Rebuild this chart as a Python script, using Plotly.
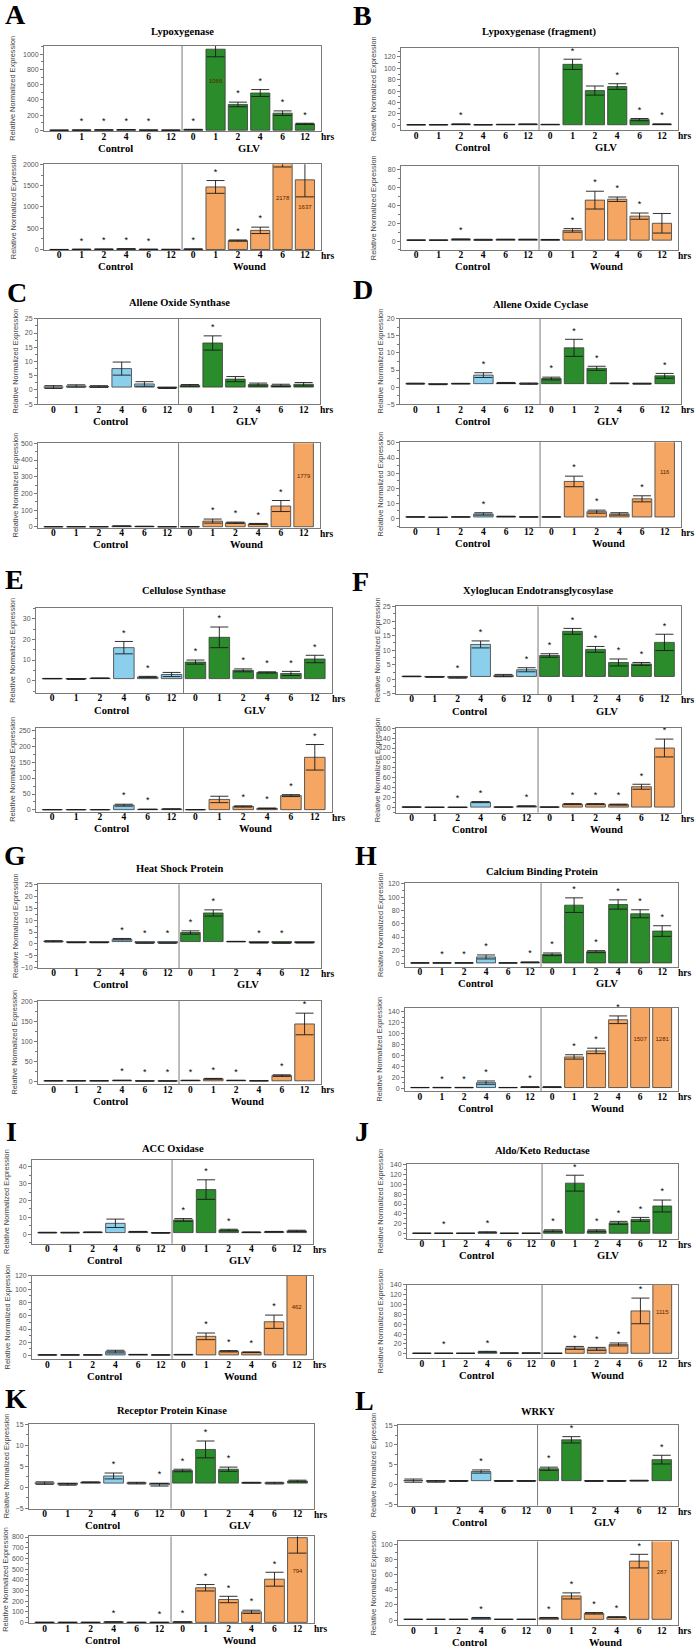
import plotly.graph_objects as go

# ---------------- data ----------------
TIMES = ["0", "1", "2", "4", "6", "12"]
LETTERS = ["A", "B", "C", "D", "E", "F", "G", "H", "I", "J", "K", "L"]
GENES = ["Lypoxygenase", "Lypoxygenase (fragment)", "Allene Oxide Synthase",
         "Allene Oxide Cyclase", "Cellulose Synthase", "Xyloglucan Endotransglycosylase",
         "Heat Shock Protein", "Calcium Binding Protein", "ACC Oxidase",
         "Aldo/Keto Reductase", "Receptor Protein Kinase", "WRKY"]
CONTROL_LABEL = "Control"
TREAT_LABELS = ["GLV", "Wound"]
Y_TITLE = "Relative Normalized Expression"

# each list: control 0,1,2,4,6,12 h then treatment 0,1,2,4,6,12 h
A_GLV = [1, 3, 5, 8, 3, 2, 10, 1066, 340, 490, 225, 85]
A_GLV_ERR = [0.3, 1, 1.5, 2, 1, 0.5, 3, 100, 30, 45, 30, 8]
A_GLV_SIG = [0, 1, 1, 1, 1, 0, 1, 1, 1, 1, 1, 1]
A_GLV_LBL = [7]
A_WND = [1, 5, 8, 15, 5, 3, 10, 1470, 210, 450, 2178, 1637]
A_WND_ERR = [0.3, 1, 2, 3, 1, 1, 3, 150, 15, 75, 240, 400]
A_WND_SIG = [0, 1, 1, 1, 1, 0, 1, 1, 1, 1, 1, 1]
A_WND_LBL = [10, 11]

B_GLV = [1, 1, 2, 1, 1.5, 2, 1.5, 107, 61, 68, 10, 2]
B_GLV_ERR = [0.2, 0.2, 0.5, 0.3, 0.3, 0.4, 0.3, 9, 8, 5, 2, 0.5]
B_GLV_SIG = [0, 0, 1, 0, 0, 0, 0, 1, 0, 1, 1, 1]
B_GLV_LBL = []
B_WND = [1, 1, 2, 1.5, 1.8, 1.8, 1.5, 12, 46, 47, 28, 20]
B_WND_ERR = [0.2, 0.2, 0.4, 0.5, 0.3, 0.3, 0.3, 2, 10, 2.5, 3.5, 11]
B_WND_SIG = [0, 0, 1, 0, 0, 0, 0, 1, 1, 1, 1, 0]
B_WND_LBL = []

C_GLV = [1.0, 1.4, 1.2, 7.5, 2.1, 0.7, 1.6, 16.5, 3.8, 1.9, 1.6, 2.0]
C_GLV_ERR = [0.5, 0.4, 0.3, 2.3, 0.8, 0.2, 0.3, 2.5, 0.9, 0.5, 0.4, 0.6]
C_GLV_SIG = [0, 0, 0, 0, 0, 0, 0, 1, 0, 0, 0, 0]
C_GLV_LBL = []
C_WND = [1, 1, 1, 5, 3, 1, 1, 35, 25, 18, 125, 1779]
C_WND_ERR = [0.3, 0.3, 0.3, 1.5, 1, 0.3, 0.3, 12, 4, 3, 33, 150]
C_WND_SIG = [0, 0, 0, 0, 0, 0, 0, 1, 1, 1, 1, 1]
C_WND_LBL = [11]

D_GLV = [1.0, 0.8, 1.0, 3.5, 1.2, 1.0, 2.5, 11.5, 5.5, 1.1, 1.0, 3.3]
D_GLV_ERR = [0.15, 0.1, 0.1, 0.7, 0.15, 0.2, 0.4, 2.5, 0.6, 0.1, 0.15, 0.7]
D_GLV_SIG = [0, 0, 0, 1, 0, 0, 1, 1, 1, 0, 0, 1]
D_GLV_LBL = []
D_WND = [1.0, 0.7, 1.0, 3.0, 1.3, 1.0, 1.0, 24.5, 4.5, 3.0, 13, 116]
D_WND_ERR = [0.1, 0.1, 0.1, 0.8, 0.2, 0.1, 0.1, 3.5, 1, 0.8, 2, 10]
D_WND_SIG = [0, 0, 0, 1, 0, 0, 0, 1, 1, 0, 1, 1]
D_WND_LBL = [11]

E_GLV = [1.0, 0.8, 1.2, 16, 1.8, 3.0, 9.0, 21, 5.0, 4.0, 3.5, 10.5]
E_GLV_ERR = [0.1, 0.2, 0.1, 3, 0.3, 1.0, 1.0, 5, 0.7, 0.3, 1.0, 1.8]
E_GLV_SIG = [0, 0, 0, 1, 1, 0, 1, 1, 1, 1, 1, 1]
E_GLV_LBL = []
E_WND = [1, 1, 1, 15, 2, 3, 1, 33, 11, 5, 45, 165]
E_WND_ERR = [0.2, 0.2, 0.2, 3, 0.5, 0.5, 0.2, 10, 2, 1, 3, 40]
E_WND_SIG = [0, 0, 0, 1, 1, 0, 0, 0, 1, 1, 1, 1]
E_WND_LBL = []

F_GLV = [1.0, 0.8, 0.6, 12, 1.3, 3.3, 8.2, 16.5, 10.3, 5.8, 5.3, 12.7]
F_GLV_ERR = [0.1, 0.1, 0.2, 1.2, 0.4, 0.7, 0.6, 1.0, 1.0, 1.2, 0.5, 2.8]
F_GLV_SIG = [0, 0, 1, 1, 0, 1, 1, 1, 1, 1, 1, 1]
F_GLV_LBL = []
F_WND = [1, 0.5, 0.5, 11, 1, 3, 1, 7, 7, 6, 42, 120]
F_WND_ERR = [0.2, 0.1, 0.1, 1, 0.2, 0.5, 0.2, 1, 1, 1, 5, 18]
F_WND_SIG = [0, 0, 1, 1, 0, 1, 0, 1, 1, 1, 1, 1]
F_WND_LBL = []

G_GLV = [1.1, 0.6, 0.6, 2.0, 0.4, 0.4, 4.8, 13, 1.0, 0.5, 0.4, 0.5]
G_GLV_ERR = [0.3, 0.1, 0.1, 0.3, 0.1, 0.1, 0.7, 1.3, 0.1, 0.1, 0.1, 0.1]
G_GLV_SIG = [0, 0, 0, 1, 1, 1, 1, 1, 0, 1, 1, 0]
G_GLV_LBL = []
G_WND = [1, 1, 1, 2, 0.5, 0.5, 2, 6, 2, 1, 14, 143]
G_WND_ERR = [0.2, 0.2, 0.2, 0.5, 0.1, 0.1, 0.3, 1, 0.3, 0.2, 2, 27]
G_WND_SIG = [0, 0, 0, 1, 1, 1, 1, 1, 1, 0, 1, 1]
G_WND_LBL = []

H_GLV = [1, 1, 1, 10, 1, 2, 14, 88, 18, 89, 75, 49]
H_GLV_ERR = [0.2, 0.3, 0.3, 3, 0.2, 0.5, 2, 11, 1.5, 7, 6, 8]
H_GLV_SIG = [0, 1, 1, 1, 0, 1, 1, 1, 1, 1, 1, 1]
H_GLV_LBL = []
H_WND = [1, 1, 1, 10, 1, 2, 2, 57, 68, 125, 1507, 1281]
H_WND_ERR = [0.2, 0.3, 0.3, 3, 0.2, 0.5, 0.5, 4, 5, 7, 100, 100]
H_WND_SIG = [0, 1, 1, 1, 0, 1, 0, 1, 1, 1, 1, 1]
H_WND_LBL = [10, 11]

I_GLV = [1, 1, 1.2, 6.5, 1.5, 0.8, 8.5, 26.5, 2.5, 1.2, 1.5, 2.0]
I_GLV_ERR = [0.2, 0.2, 0.2, 2.5, 0.2, 0.2, 0.8, 5.8, 0.5, 0.2, 0.2, 0.4]
I_GLV_SIG = [0, 0, 0, 0, 0, 0, 1, 1, 1, 0, 0, 0]
I_GLV_LBL = []
I_WND = [1, 1, 1, 6, 1.5, 1, 1.5, 29, 6.5, 5, 51, 462]
I_WND_ERR = [0.2, 0.2, 0.2, 2, 0.3, 0.2, 0.3, 5, 1, 0.5, 10, 40]
I_WND_SIG = [0, 0, 0, 0, 0, 0, 0, 1, 1, 1, 1, 1]
I_WND_LBL = [11]

J_GLV = [1, 1, 1, 3, 1, 1, 6, 102, 6, 22, 29, 56]
J_GLV_ERR = [0.2, 0.3, 0.2, 1, 0.2, 0.2, 2, 16, 2, 3, 4, 12]
J_GLV_SIG = [0, 1, 0, 1, 0, 0, 1, 1, 1, 1, 1, 1]
J_GLV_LBL = []
J_WND = [1, 1, 1, 4, 1.5, 1.5, 1, 12, 10, 19, 87, 1115]
J_WND_ERR = [0.2, 0.3, 0.2, 1, 0.2, 0.2, 0.2, 3, 3, 3, 26, 100]
J_WND_SIG = [0, 1, 0, 1, 0, 0, 0, 1, 1, 1, 1, 0]
J_WND_LBL = [11]

K_GLV = [1.0, 0.7, 1.2, 2.7, 1.0, 0.6, 4.0, 9.0, 4.3, 1.1, 1.0, 1.5]
K_GLV_ERR = [0.3, 0.2, 0.1, 0.7, 0.2, 0.3, 0.3, 2.0, 0.5, 0.1, 0.2, 0.2]
K_GLV_SIG = [0, 0, 0, 1, 0, 1, 1, 1, 1, 0, 0, 0]
K_GLV_LBL = []
K_WND = [1, 1, 1, 5, 1, 1, 5, 325, 215, 100, 405, 794]
K_WND_ERR = [0.3, 0.3, 0.3, 1, 0.3, 0.3, 1, 30, 30, 15, 65, 145]
K_WND_SIG = [0, 0, 0, 1, 0, 1, 1, 1, 1, 1, 1, 1]
K_WND_LBL = [11]

L_GLV = [1.0, 0.8, 0.9, 3.3, 0.9, 0.9, 4.0, 11.3, 0.9, 0.9, 1.0, 6.3]
L_GLV_ERR = [0.4, 0.2, 0.1, 0.4, 0.1, 0.1, 0.4, 0.8, 0.1, 0.1, 0.1, 1.1]
L_GLV_SIG = [0, 0, 0, 1, 0, 0, 1, 1, 0, 0, 0, 1]
L_GLV_LBL = []
L_WND = [1, 1, 1, 3, 1, 1, 3, 32, 9, 4, 78, 287]
L_WND_ERR = [0.2, 0.2, 0.2, 0.5, 0.2, 0.2, 0.5, 4, 1, 0.5, 9, 20]
L_WND_SIG = [0, 0, 0, 1, 0, 0, 1, 1, 1, 1, 1, 1]
L_WND_LBL = [11]

DATA = {
    "A": [(A_GLV, A_GLV_ERR, A_GLV_SIG, A_GLV_LBL), (A_WND, A_WND_ERR, A_WND_SIG, A_WND_LBL)],
    "B": [(B_GLV, B_GLV_ERR, B_GLV_SIG, B_GLV_LBL), (B_WND, B_WND_ERR, B_WND_SIG, B_WND_LBL)],
    "C": [(C_GLV, C_GLV_ERR, C_GLV_SIG, C_GLV_LBL), (C_WND, C_WND_ERR, C_WND_SIG, C_WND_LBL)],
    "D": [(D_GLV, D_GLV_ERR, D_GLV_SIG, D_GLV_LBL), (D_WND, D_WND_ERR, D_WND_SIG, D_WND_LBL)],
    "E": [(E_GLV, E_GLV_ERR, E_GLV_SIG, E_GLV_LBL), (E_WND, E_WND_ERR, E_WND_SIG, E_WND_LBL)],
    "F": [(F_GLV, F_GLV_ERR, F_GLV_SIG, F_GLV_LBL), (F_WND, F_WND_ERR, F_WND_SIG, F_WND_LBL)],
    "G": [(G_GLV, G_GLV_ERR, G_GLV_SIG, G_GLV_LBL), (G_WND, G_WND_ERR, G_WND_SIG, G_WND_LBL)],
    "H": [(H_GLV, H_GLV_ERR, H_GLV_SIG, H_GLV_LBL), (H_WND, H_WND_ERR, H_WND_SIG, H_WND_LBL)],
    "I": [(I_GLV, I_GLV_ERR, I_GLV_SIG, I_GLV_LBL), (I_WND, I_WND_ERR, I_WND_SIG, I_WND_LBL)],
    "J": [(J_GLV, J_GLV_ERR, J_GLV_SIG, J_GLV_LBL), (J_WND, J_WND_ERR, J_WND_SIG, J_WND_LBL)],
    "K": [(K_GLV, K_GLV_ERR, K_GLV_SIG, K_GLV_LBL), (K_WND, K_WND_ERR, K_WND_SIG, K_WND_LBL)],
    "L": [(L_GLV, L_GLV_ERR, L_GLV_SIG, L_GLV_LBL), (L_WND, L_WND_ERR, L_WND_SIG, L_WND_LBL)],
}

# ---------------- layout / style ----------------
W, H = 696, 1652
BASE = 1.0
SERIF = "Liberation Serif, Times New Roman, serif"
SANS = "Liberation Sans, Arial, sans-serif"
CTRL_COLOR = "#8ccfed"
TREAT_COLORS = ["#2a8c2a", "#f4a662"]
FRAME_COLOR = "#7a7a7a"
X_RANGE = [-0.68, 11.72]

FRAME_X = {"A": (44, 321), "B": (401, 678), "C": (38, 320), "D": (400, 681),
           "E": (36, 332), "F": (396, 681), "G": (38, 321), "H": (405, 678),
           "I": (32, 313), "J": (407, 678), "K": (29, 314), "L": (398, 678)}
FRAME_Y = {"A": ((42, 128), (161, 247)), "B": ((44, 127), (163, 247)),
           "C": ((316, 402), (441, 526)), "D": ((316, 402), (440, 525)),
           "E": ((607, 692), (727, 811)), "F": ((605, 693), (727, 812)),
           "G": ((884, 968), (1001, 1085)), "H": ((883, 967), (1008, 1092)),
           "I": ((1161, 1245), (1277, 1361)), "J": ((1165, 1240), (1286, 1360)),
           "K": ((1426, 1511), (1539, 1626)), "L": ((1427, 1508), (1544, 1628))}
TITLE_Y = {"A": 28, "B": 28, "C": 300, "D": 302, "E": 589, "F": 589,
           "G": 868, "H": 871, "I": 1149, "J": 1151, "K": 1412, "L": 1413}
LETTER_POS = {"A": (3, 11), "B": (351, 12), "C": (5, 290), "D": (351, 287),
              "E": (3, 578), "F": (350, 580), "G": (2, 855), "H": (353, 855),
              "I": (4, 1132), "J": (353, 1132), "K": (3, 1400), "L": (353, 1402)}
YTITLE_OFF = {"A": 31, "B": 28, "C": 23, "D": 20, "E": 23, "F": 19,
              "G": 23, "H": 25, "I": 25, "J": 27, "K": 23, "L": 25}
YAX = {
    "A": ((-15, 1110, 200), (-10, 2001, 500)),
    "B": ((-9, 136, 20), (-10, 84, 20)),
    "C": ((-5.05, 25.05, 5), (-5, 501, 100)),
    "D": ((-5.05, 20.05, 5), (-5.5, 50.5, 10)),
    "E": ((-6, 35, 10), (-5, 257, 50)),
    "F": ((-5.05, 25.05, 5), (-10, 160.5, 20)),
    "G": ((-10.05, 25.05, 5), (-8, 201, 50)),
    "H": ((-5, 121, 20), (-6, 147, 20)),
    "I": ((-5.6, 44, 10), (-5.5, 120.5, 20)),
    "J": ((-10, 140.5, 20), (-9, 140.5, 20)),
    "K": ((-5.05, 15.05, 5), (-6, 805, 100)),
    "L": ((-5.3, 15.05, 5), (-6.6, 104, 20)),
}

fig = go.Figure()
annotations = []
shapes = []
layout_axes = {}

k = 0
for p_i, letter in enumerate(LETTERS):
    fx0, fx1 = FRAME_X[letter]
    lx, ly = LETTER_POS[letter]
    annotations.append(dict(text=letter, xref="paper", yref="paper", x=lx / W, y=1 - ly / H,
                            xanchor="left", yanchor="middle", showarrow=False,
                            font=dict(family=SERIF, size=28, color="black", weight="bold")))
    annotations.append(dict(text=GENES[p_i], xref="paper", yref="paper", x=(fx0 + fx1) / 2 / W,
                            y=1 - TITLE_Y[letter] / H, xanchor="center", yanchor="middle",
                            showarrow=False,
                            font=dict(family=SERIF, size=10.5, color="black", weight="bold")))
    for s_i in range(2):
        k += 1
        xa = "x" if k == 1 else f"x{k}"
        ya = "y" if k == 1 else f"y{k}"
        xkey = "xaxis" if k == 1 else f"xaxis{k}"
        ykey = "yaxis" if k == 1 else f"yaxis{k}"
        top, bot = FRAME_Y[letter][s_i]
        ymin, ymax, dt = YAX[letter][s_i]
        vals, errs, sig, lbl = DATA[letter][s_i]
        per_px = (ymax - ymin) / (bot - top)

        colors = [CTRL_COLOR] * 6 + [TREAT_COLORS[s_i]] * 6
        xs = list(range(12))
        fig.add_trace(go.Bar(
            x=xs, y=[v - BASE for v in vals], base=BASE, xaxis=xa, yaxis=ya,
            width=0.86, marker=dict(color=colors, line=dict(color="#3a3a3a", width=0.8)),
            error_y=dict(type="data", array=errs, visible=True, color="#1a1a1a",
                         thickness=0.9, width=9),
            showlegend=False, hoverinfo="skip"))

        # significance stars
        sx, sy = [], []
        for i in range(12):
            if sig[i]:
                t = max(vals[i] + errs[i], BASE)
                y = ymax + 4 * per_px if t + 6 * per_px > ymax else t + 8 * per_px
                sx.append(i)
                sy.append(y)
        if sx:
            fig.add_trace(go.Scatter(
                x=sx, y=sy, mode="text", text=["*"] * len(sx), xaxis=xa, yaxis=ya,
                textfont=dict(family=SANS, size=9, color="black"), cliponaxis=False,
                showlegend=False, hoverinfo="skip"))
        # value labels inside tall bars
        if lbl:
            fig.add_trace(go.Scatter(
                x=lbl, y=[BASE + 0.6 * (min(vals[i], ymax) - BASE) for i in lbl],
                mode="text", text=[str(vals[i]) for i in lbl], xaxis=xa, yaxis=ya,
                textfont=dict(family=SANS, size=6, color="#5a1e00"),
                showlegend=False, hoverinfo="skip"))

        layout_axes[xkey] = dict(
            domain=[fx0 / W, fx1 / W], anchor=ya, range=X_RANGE,
            tickmode="array", tickvals=xs, ticktext=TIMES + TIMES,
            tickfont=dict(family=SERIF, size=9.5, color="black", weight="bold"),
            ticklabelstandoff=-4,
            showline=True, mirror=True, linecolor=FRAME_COLOR, linewidth=1,
            ticks="", showgrid=False, zeroline=False, fixedrange=True)
        layout_axes[ykey] = dict(
            domain=[1 - bot / H, 1 - top / H], anchor=xa, range=[ymin, ymax],
            tick0=0, dtick=dt, tickfont=dict(family=SANS, size=7, color="#555555"),
            ticks="outside", ticklen=3, tickcolor=FRAME_COLOR, tickwidth=1,
            minor=dict(ticks="outside", ticklen=2, tickcolor=FRAME_COLOR, dtick=dt / 2),
            showline=True, mirror=True, linecolor=FRAME_COLOR, linewidth=1,
            showgrid=False, zeroline=False, fixedrange=True)

        shapes.append(dict(type="line", xref=xa, yref=f"{ya} domain", x0=5.5, x1=5.5,
                           y0=0, y1=1, line=dict(color=FRAME_COLOR, width=1)))
        annotations.append(dict(text="hrs", xref=f"{xa} domain", yref=f"{ya} domain",
                                x=1, y=0, xanchor="left", yanchor="top", xshift=-2, yshift=1,
                                showarrow=False,
                                font=dict(family=SERIF, size=9.5, color="black", weight="bold")))
        for gx, gtxt in ((2.5, CONTROL_LABEL), (8.5, TREAT_LABELS[s_i])):
            annotations.append(dict(text=gtxt, xref=xa, yref=f"{ya} domain", x=gx, y=0,
                                    xanchor="center", yanchor="top", yshift=-9.5,
                                    showarrow=False,
                                    font=dict(family=SERIF, size=10.6, color="black",
                                              weight="bold")))
        annotations.append(dict(text=Y_TITLE, xref="paper", yref="paper",
                                x=(fx0 - YTITLE_OFF[letter]) / W, y=1 - (top + bot) / 2 / H,
                                xanchor="center", yanchor="middle", textangle=-90,
                                showarrow=False,
                                font=dict(family=SANS, size=7.4, color="#444444")))

fig.update_layout(
    width=W, height=H, margin=dict(l=0, r=0, t=0, b=0),
    paper_bgcolor="white", plot_bgcolor="white",
    showlegend=False, barmode="overlay",
    annotations=annotations, shapes=shapes, **layout_axes)

fig.write_html(
    "out.html", config={"displayModeBar": False},
    post_script=("document.body.style.margin='0';document.body.style.padding='0';"
                 "var d=document.getElementsByClassName('plotly-graph-div')[0];"
                 "d.style.position='absolute';d.style.top='0px';d.style.left='0px';"))
